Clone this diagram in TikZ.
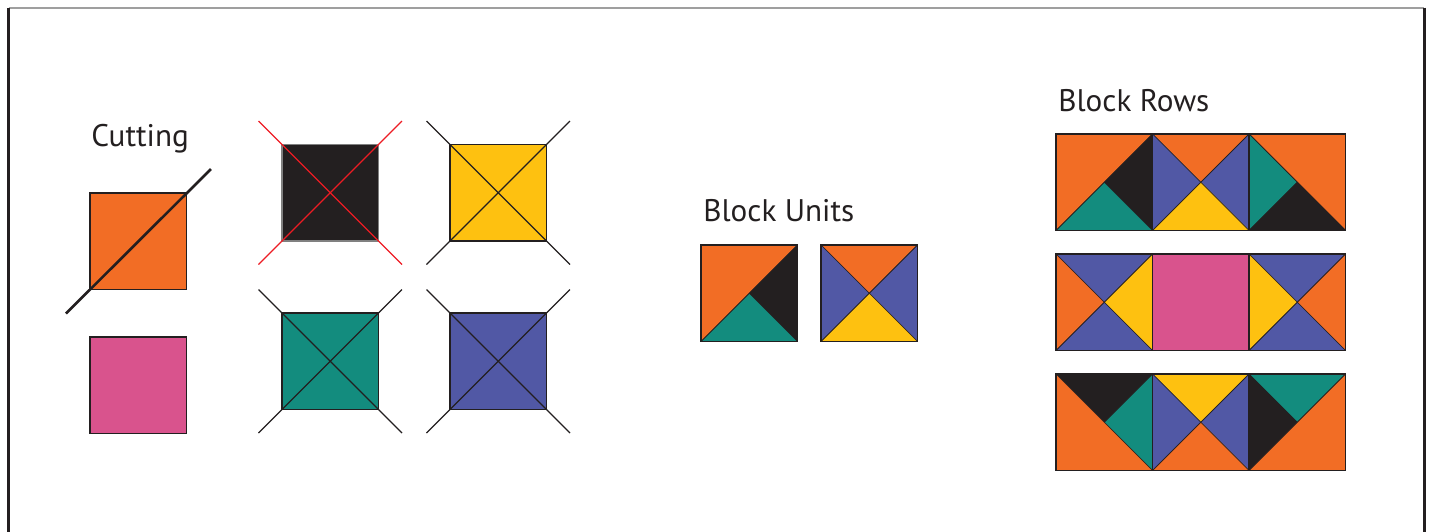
\documentclass[tikz,border=0pt]{standalone}
\usepackage{fontspec}
\setmainfont{PT Sans}
\usepackage{tikz}

\definecolor{ink}{RGB}{35,31,32}
\definecolor{qorange}{RGB}{242,109,37}
\definecolor{qteal}{RGB}{19,140,126}
\definecolor{qblue}{RGB}{81,88,165}
\definecolor{qyellow}{RGB}{254,193,16}
\definecolor{qpink}{RGB}{217,83,141}
\definecolor{qred}{RGB}{237,28,36}

\tikzset{
  piece/.style={fill=#1, draw=ink, line width=0.35pt, line join=round},
  edge/.style={draw=ink, line width=0.7pt},
  cutline/.style={draw=#1, line width=0.65pt},
  cutline/.default=ink,
  label/.style={font=\fontsize{15.6}{18}\selectfont, text=ink, anchor=base west, inner sep=0pt}
}

% corners of one block, used inside a shifted scope
\newcommand{\blockcorners}{%
  \coordinate (tl) at (0,0); \coordinate (tr) at (96.5,0);
  \coordinate (bl) at (0,96.5); \coordinate (br) at (96.5,96.5);
  \coordinate (c) at (48.25,48.25);}

\begin{document}
\begin{tikzpicture}[x=0.5pt,y=-0.5pt]
\useasboundingbox (0,0) rectangle (1431,531);

% frame
\draw[gray!75, line width=0.8pt] (8.5,8) -- (1424,8);
\draw[ink, line width=1.5pt] (8.5,560) -- (8.5,7.5);
\draw[ink, line width=1.5pt] (1424,7.5) -- (1424,560);

% cutting
\node[label] (cutting) at (91,146.7) {Cutting};

\begin{scope}[shift={(90,193)}] \blockcorners
\filldraw[piece=qorange] (tl) rectangle (br);
\draw[edge] (tl) rectangle (br);
\draw[cutline, line width=1.3pt] (-24,120.5) -- (121,-24);
\end{scope}

\begin{scope}[shift={(90,337)}] \blockcorners
\filldraw[piece=qpink] (tl) rectangle (br);
\draw[edge] (tl) rectangle (br);
\end{scope}

\begin{scope}[shift={(282,144.5)}] \blockcorners
\filldraw[piece=ink] (tl) rectangle (br);
\draw[edge, draw=gray] (tl) rectangle (br);
\draw[cutline=qred] (-23.5,-23.5) -- (120,120);
\draw[cutline=qred] (-23.5,120) -- (120,-23.5);
\end{scope}

\begin{scope}[shift={(450,144.5)}] \blockcorners
\filldraw[piece=qyellow] (tl) rectangle (br);
\draw[edge] (tl) rectangle (br);
\draw[cutline] (-23.5,-23.5) -- (120,120);
\draw[cutline] (-23.5,120) -- (120,-23.5);
\end{scope}

\begin{scope}[shift={(282,313)}] \blockcorners
\filldraw[piece=qteal] (tl) rectangle (br);
\draw[edge] (tl) rectangle (br);
\draw[cutline] (-23.5,-23.5) -- (120,120);
\draw[cutline] (-23.5,120) -- (120,-23.5);
\end{scope}

\begin{scope}[shift={(450,313)}] \blockcorners
\filldraw[piece=qblue] (tl) rectangle (br);
\draw[edge] (tl) rectangle (br);
\draw[cutline] (-23.5,-23.5) -- (120,120);
\draw[cutline] (-23.5,120) -- (120,-23.5);
\end{scope}

% block units
\node[label] (units) at (703,221) {Block Units};

\begin{scope}[shift={(701,245)}] \blockcorners
\filldraw[piece=qorange] (tl) -- (tr) -- (bl) -- cycle;
\filldraw[piece=ink] (tr) -- (br) -- (c) -- cycle;
\filldraw[piece=qteal] (bl) -- (br) -- (c) -- cycle;
\draw[edge] (tl) rectangle (br);
\end{scope}

\begin{scope}[shift={(821,245)}] \blockcorners
\filldraw[piece=qorange] (tl) -- (tr) -- (c) -- cycle;
\filldraw[piece=qblue] (tl) -- (bl) -- (c) -- cycle;
\filldraw[piece=qblue] (tr) -- (br) -- (c) -- cycle;
\filldraw[piece=qyellow] (bl) -- (br) -- (c) -- cycle;
\draw[edge] (tl) rectangle (br);
\end{scope}

% block rows
\node[label] (rows) at (1058,111.3) {Block Rows};

% row 1
\begin{scope}[shift={(1056,134)}] \blockcorners
\filldraw[piece=qorange] (tl) -- (tr) -- (bl) -- cycle;
\filldraw[piece=ink] (tr) -- (br) -- (c) -- cycle;
\filldraw[piece=qteal] (bl) -- (br) -- (c) -- cycle;
\draw[edge] (tl) rectangle (br);
\end{scope}

\begin{scope}[shift={(1152.5,134)}] \blockcorners
\filldraw[piece=qorange] (tl) -- (tr) -- (c) -- cycle;
\filldraw[piece=qblue] (tl) -- (bl) -- (c) -- cycle;
\filldraw[piece=qblue] (tr) -- (br) -- (c) -- cycle;
\filldraw[piece=qyellow] (bl) -- (br) -- (c) -- cycle;
\draw[edge] (tl) rectangle (br);
\end{scope}

\begin{scope}[shift={(1249,134)}] \blockcorners
\filldraw[piece=qorange] (tl) -- (tr) -- (br) -- cycle;
\filldraw[piece=qteal] (tl) -- (bl) -- (c) -- cycle;
\filldraw[piece=ink] (bl) -- (br) -- (c) -- cycle;
\draw[edge] (tl) rectangle (br);
\end{scope}

% row 2
\begin{scope}[shift={(1056,254)}] \blockcorners
\filldraw[piece=qblue] (tl) -- (tr) -- (c) -- cycle;
\filldraw[piece=qorange] (tl) -- (bl) -- (c) -- cycle;
\filldraw[piece=qyellow] (tr) -- (br) -- (c) -- cycle;
\filldraw[piece=qblue] (bl) -- (br) -- (c) -- cycle;
\draw[edge] (tl) rectangle (br);
\end{scope}

\begin{scope}[shift={(1152.5,254)}] \blockcorners
\filldraw[piece=qpink] (tl) rectangle (br);
\draw[edge] (tl) rectangle (br);
\end{scope}

\begin{scope}[shift={(1249,254)}] \blockcorners
\filldraw[piece=qblue] (tl) -- (tr) -- (c) -- cycle;
\filldraw[piece=qyellow] (tl) -- (bl) -- (c) -- cycle;
\filldraw[piece=qorange] (tr) -- (br) -- (c) -- cycle;
\filldraw[piece=qblue] (bl) -- (br) -- (c) -- cycle;
\draw[edge] (tl) rectangle (br);
\end{scope}

% row 3
\begin{scope}[shift={(1056,374)}] \blockcorners
\filldraw[piece=ink] (tl) -- (tr) -- (c) -- cycle;
\filldraw[piece=qteal] (tr) -- (br) -- (c) -- cycle;
\filldraw[piece=qorange] (tl) -- (bl) -- (br) -- cycle;
\draw[edge] (tl) rectangle (br);
\end{scope}

\begin{scope}[shift={(1152.5,374)}] \blockcorners
\filldraw[piece=qyellow] (tl) -- (tr) -- (c) -- cycle;
\filldraw[piece=qblue] (tl) -- (bl) -- (c) -- cycle;
\filldraw[piece=qblue] (tr) -- (br) -- (c) -- cycle;
\filldraw[piece=qorange] (bl) -- (br) -- (c) -- cycle;
\draw[edge] (tl) rectangle (br);
\end{scope}

\begin{scope}[shift={(1249,374)}] \blockcorners
\filldraw[piece=qteal] (tl) -- (tr) -- (c) -- cycle;
\filldraw[piece=ink] (tl) -- (bl) -- (c) -- cycle;
\filldraw[piece=qorange] (tr) -- (bl) -- (br) -- cycle;
\draw[edge] (tl) rectangle (br);
\end{scope}

\end{tikzpicture}
\end{document}
